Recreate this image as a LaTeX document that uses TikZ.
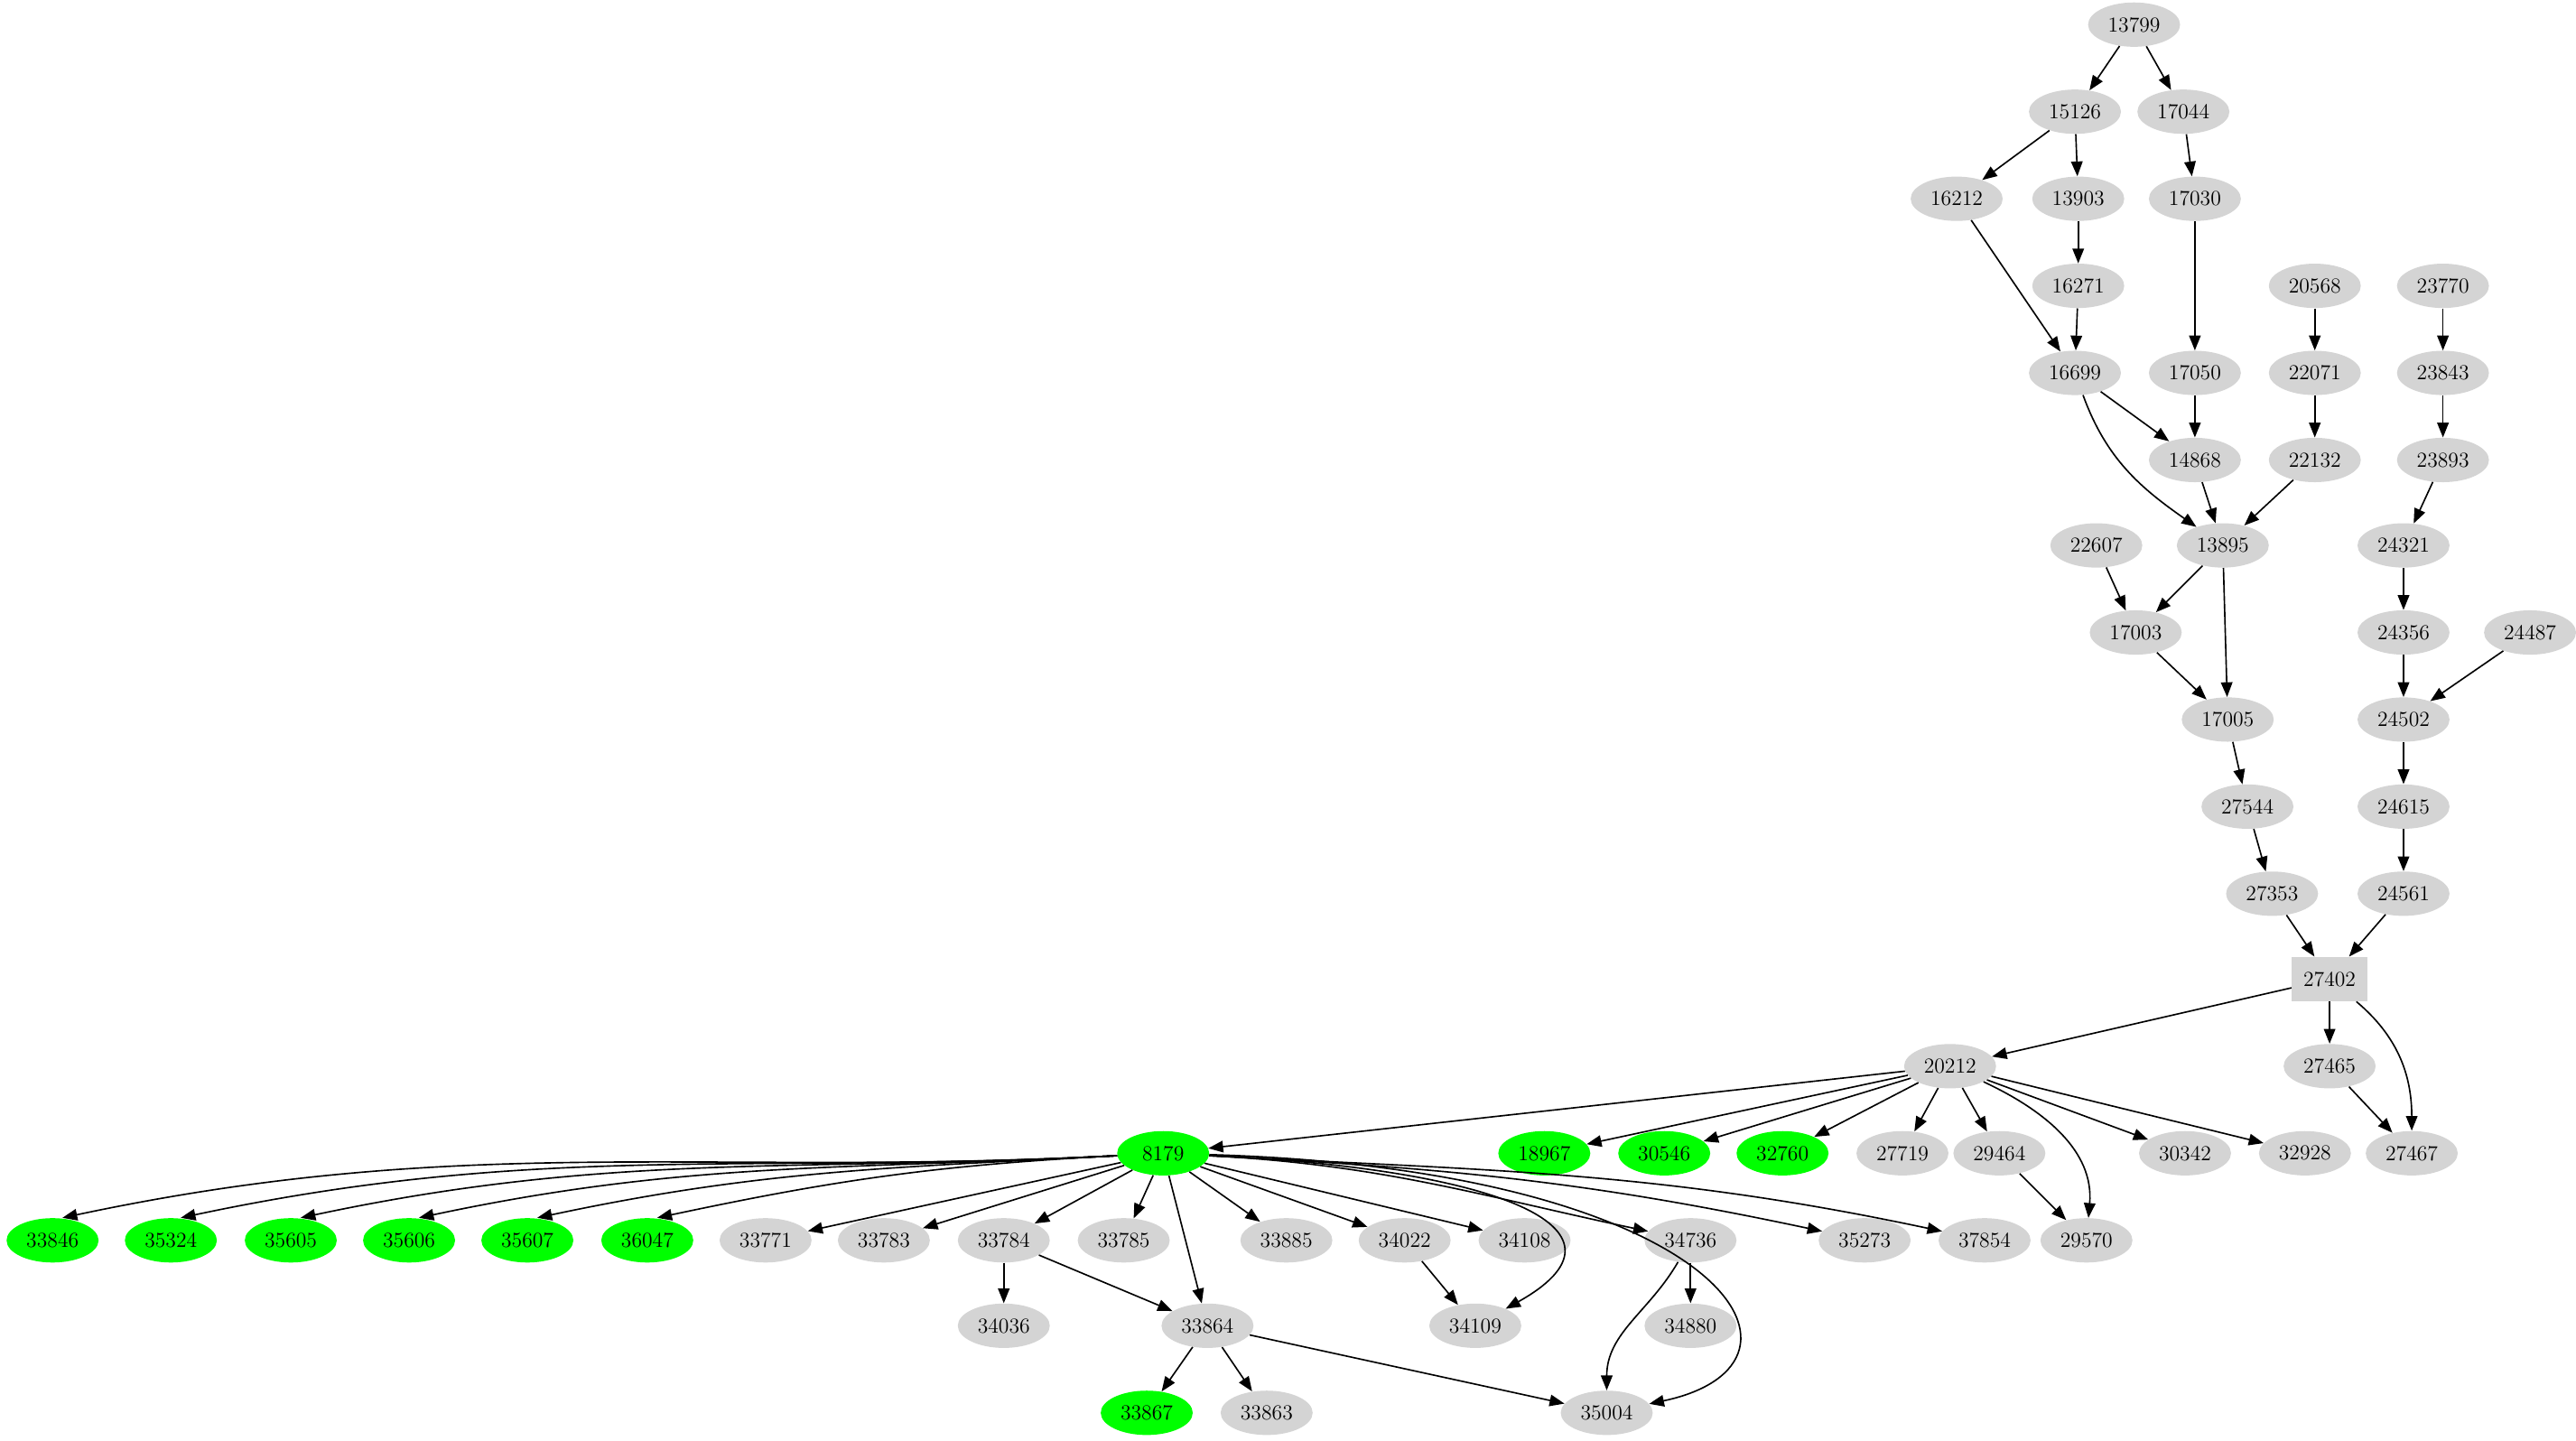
\documentclass[tikz,border=0pt]{standalone}
\usetikzlibrary{shapes.geometric,arrows.meta}
\tikzset{
 n/.style={ellipse,fill=black!17,minimum width=56pt,minimum height=27pt,inner sep=0pt,font=\fontsize{13}{15}\selectfont},
 g/.style={n,fill=green},
 b/.style={rectangle,fill=black!17,minimum width=46pt,minimum height=27pt,inner sep=0pt,font=\fontsize{13}{15}\selectfont},
 e/.style={-{Triangle[length=9pt,width=7pt]},line width=0.9pt}
}
\begin{document}
\begin{tikzpicture}[x=1pt,y=-1pt]
\useasboundingbox (0,0) rectangle (1568,877);
\foreach \nm/\x/\y in {13799/1299/15,15126/1263/68,17044/1329/68,16212/1191/121,13903/1265/121,17030/1336/121,
16271/1265/174,20568/1409/174,23770/1487/174,16699/1263/227,17050/1336/227,22071/1409/227,23843/1487/227,
14868/1336/280,22132/1409/280,23893/1487/280,22607/1276/332,13895/1353/332,24321/1463/332,
17003/1300/385,24356/1463/385,24487/1540/385,17005/1356/438,24502/1463/438,27544/1368/491,24615/1463/491,
27353/1383/544,24561/1463/544,20212/1187/649,27465/1418/649,27719/1158/702,29464/1217/702,30342/1330/702,
32928/1403/702,27467/1468/702,33771/466/755,33783/538/755,33784/611/755,33785/684/755,33885/783/755,
34022/855/755,34108/928/755,34736/1029/755,35273/1135/755,37854/1208/755,29570/1270/755,
34036/611/807,33864/735/807,34109/898/807,34880/1029/807,33863/771/860,35004/978/860}
 \node[n] (\nm) at (\x,\y) {\nm};
\foreach \nm/\x/\y in {8179/708/702,18967/940/702,30546/1013/702,32760/1085/702,33846/32/755,35324/104/755,
35605/177/755,35606/249/755,35607/321/755,36047/394/755,33867/698/860}
 \node[g] (\nm) at (\x,\y) {\nm};
\node[b] (27402) at (1418,596) {27402};
\foreach \a/\b in {13799/15126,13799/17044,15126/16212,15126/13903,17044/17030,13903/16271,16212/16699,16271/16699,
17030/17050,16699/14868,17050/14868,14868/13895,22132/13895,20568/22071,22071/22132,23770/23843,23843/23893,
23893/24321,24321/24356,24356/24502,24487/24502,22607/17003,13895/17003,13895/17005,17003/17005,17005/27544,
27544/27353,27353/27402,24502/24615,24615/24561,24561/27402,27402/20212,27402/27465,27465/27467,
20212/8179,20212/18967,20212/30546,20212/32760,20212/27719,20212/29464,20212/30342,20212/32928,29464/29570,
8179/33771,8179/33783,8179/33784,8179/33785,
8179/33885,8179/34022,8179/34108,8179/33864,33784/34036,33784/33864,
34022/34109,34736/34880,33864/33867,33864/33863,33864/35004}
 \draw[e] (\a) -- (\b);
\foreach \b in {33846,35324,35605,35606,35607,36047}
 \draw[e] (8179) to[out=183,in=12] ([xshift=6pt]\b.north);
\foreach \b in {34736,35273,37854}
 \draw[e] (8179) to[out=-3,in=168] (\b);
\draw[e] (16699) to[out=-70,in=145] (13895);
\draw[e] (27402) to[out=-40,in=90] (27467);
\draw[e] (20212) to[out=-25,in=85] (29570);
\draw[e] (34736) to[out=-120,in=90] (35004);
\draw[e] (8179) .. controls (920,712) and (1000,750) .. (34109);
\draw[e] (8179) .. controls (1050,712) and (1120,830) .. (35004);
\end{tikzpicture}
\end{document}
